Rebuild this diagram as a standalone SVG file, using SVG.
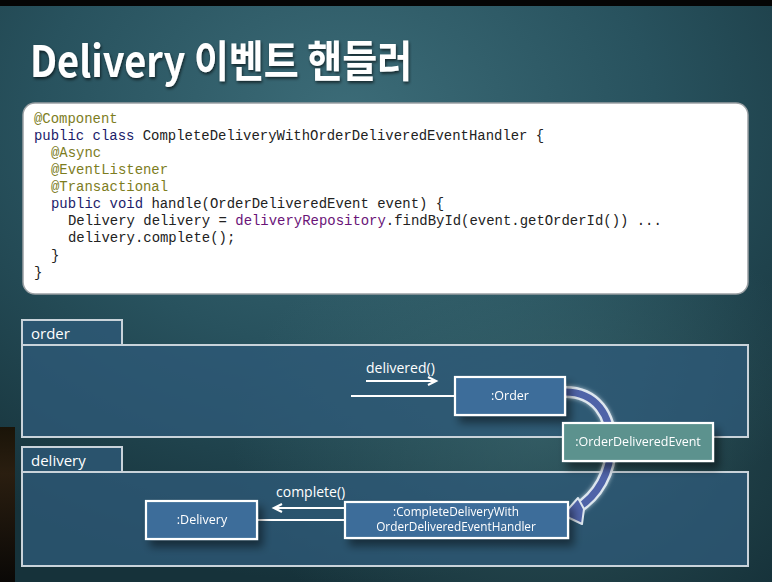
<svg xmlns="http://www.w3.org/2000/svg" width="772" height="582" viewBox="0 0 772 582">
<defs>
  <radialGradient id="bg1" cx="0.45" cy="0.2" r="0.8">
    <stop offset="0" stop-color="#3c6c78"/>
    <stop offset="0.5" stop-color="#28525e"/>
    <stop offset="1" stop-color="#16323a"/>
  </radialGradient>
  <radialGradient id="bg2" cx="0.7" cy="0.75" r="0.4">
    <stop offset="0" stop-color="#4a7a80" stop-opacity="0.45"/>
    <stop offset="1" stop-color="#4a7a80" stop-opacity="0"/>
  </radialGradient>
  <linearGradient id="leftStrip" x1="0" y1="0" x2="0" y2="1">
    <stop offset="0" stop-color="#1a1408"/>
    <stop offset="0.3" stop-color="#2a1e10"/>
    <stop offset="1" stop-color="#0a0806"/>
  </linearGradient>
  <filter id="shadow" x="-20%" y="-30%" width="150%" height="180%">
    <feDropShadow dx="5" dy="7" stdDeviation="4" flood-color="#000" flood-opacity="0.45"/>
  </filter>
  <filter id="glow" x="-20%" y="-20%" width="140%" height="140%">
    <feDropShadow dx="0" dy="0" stdDeviation="2" flood-color="#dfe8f0" flood-opacity="0.7"/>
  </filter>
  <filter id="tshadow" x="-5%" y="-20%" width="110%" height="150%">
    <feDropShadow dx="1" dy="2" stdDeviation="1.5" flood-color="#000" flood-opacity="0.6"/>
  </filter>
  <marker id="open" markerWidth="12" markerHeight="12" refX="9" refY="5" orient="auto" markerUnits="userSpaceOnUse">
    <path d="M1,1 L9,5 L1,9" fill="none" stroke="#ffffff" stroke-width="2.2"/>
  </marker>
</defs>
<style>
  .code { font-family: "Liberation Mono", "DejaVu Sans Mono", monospace; font-size: 13.95px; fill: #222; }
  .kw { fill: #1c1c6a; }
  .ann { fill: #7d7d1e; }
  .fld { fill: #6a1478; }
  .frame { fill: #2e5a78; fill-opacity: 0.78; stroke: #c9d3da; stroke-width: 2; }
  .flabel { font-family: "Open Sans", "Noto Sans", sans-serif; font-size: 15px; fill: #ffffff; }
  .node rect { stroke: #ffffff; stroke-width: 2.2; }
  .obj { fill: #3e6d9a; }
  .evt { fill: #5b928e; }
  .ntext { font-family: "Open Sans", "Noto Sans", sans-serif; font-size: 12.5px; fill: #ffffff; text-anchor: middle; }
  .small { font-size: 11.8px; }
  .msg { font-family: "Open Sans", "Noto Sans", sans-serif; font-size: 14px; fill: #ffffff; }
  .link { stroke: #ffffff; stroke-width: 2; fill: none; }
</style>

<!-- background -->
<rect x="0" y="0" width="772" height="582" fill="url(#bg1)"/>
<rect x="0" y="0" width="772" height="582" fill="url(#bg2)"/>
<rect x="0" y="0" width="772" height="6" fill="#050505"/>
<rect x="0" y="427" width="15" height="155" fill="url(#leftStrip)"/>

<!-- title -->
<g id="title" filter="url(#tshadow)">
  <text transform="translate(30,77) scale(0.95,1.08)" font-family="'Noto Sans CJK KR', 'Noto Sans', sans-serif" font-weight="bold" font-size="40" fill="#ffffff">Delivery 이벤트 핸들러</text>
</g>

<!-- code box -->
<g id="code">
  <rect x="23" y="103" width="725" height="191" rx="12" ry="12" fill="#ffffff" stroke="#9aa0a4" stroke-width="1.5"/>
  <text class="code" x="34" y="123"><tspan class="ann">@Component</tspan></text>
  <text class="code" x="34" y="140"><tspan class="kw">public class</tspan> CompleteDeliveryWithOrderDeliveredEventHandler {</text>
  <text class="code" x="51" y="157"><tspan class="ann">@Async</tspan></text>
  <text class="code" x="51" y="174"><tspan class="ann">@EventListener</tspan></text>
  <text class="code" x="51" y="191"><tspan class="ann">@Transactional</tspan></text>
  <text class="code" x="51" y="208"><tspan class="kw">public void</tspan> handle(OrderDeliveredEvent event) {</text>
  <text class="code" x="68" y="225">Delivery delivery = <tspan class="fld">deliveryRepository</tspan>.findById(event.getOrderId()) ...</text>
  <text class="code" x="68" y="242">delivery.complete();</text>
  <text class="code" x="51" y="260">}</text>
  <text class="code" x="34" y="277">}</text>
</g>

<!-- frames -->
<g id="frame-order">
  <rect class="frame" x="22" y="320" width="100" height="25"/>
  <rect class="frame" x="22" y="345" width="726" height="92"/>
  <text class="flabel" x="31" y="339">order</text>
</g>
<g id="frame-delivery">
  <rect class="frame" x="22" y="447" width="100" height="25"/>
  <rect class="frame" x="22" y="472" width="726" height="94"/>
  <text class="flabel" x="31" y="466">delivery</text>
</g>

<!-- connectors -->
<g id="connectors">
  <text class="msg" x="366" y="373">delivered()</text>
  <line class="link" x1="366" y1="381" x2="436" y2="381" marker-end="url(#open)"/>
  <line class="link" x1="351" y1="396" x2="455" y2="396"/>
  <text class="msg" x="276" y="497">complete()</text>
  <line class="link" x1="344" y1="508" x2="274" y2="508" marker-end="url(#open)"/>
  <line class="link" x1="257" y1="520" x2="345" y2="520"/>
  <g id="event-flow">
    <path d="M565,392 C596,392 611,415 611,445 C611,472 598,496 576,509" fill="none" stroke="#dde6ee" stroke-width="12" filter="url(#glow)"/>
    <path d="M565,392 C596,392 611,415 611,445 C611,472 598,496 576,509" fill="none" stroke="#4f63a8" stroke-width="7"/>
    <polygon points="563,515 578,498 584,509 582,524" fill="#4f63a8" stroke="#dde6ee" stroke-width="2" stroke-linejoin="round"/>
  </g>
</g>

<!-- nodes -->
<g id="node-order" class="node" filter="url(#shadow)">
  <rect class="obj" x="455" y="377" width="110" height="38"/>
  <text class="ntext" x="510" y="400">:Order</text>
</g>
<g id="node-event" class="node" filter="url(#shadow)">
  <rect class="evt" x="563" y="423" width="150" height="38"/>
  <text class="ntext" x="638" y="446">:OrderDeliveredEvent</text>
</g>
<g id="node-handler" class="node" filter="url(#shadow)">
  <rect class="obj" x="345" y="502" width="223" height="36"/>
  <text class="ntext small" x="456" y="516">:CompleteDeliveryWith</text>
  <text class="ntext small" x="456" y="531">OrderDeliveredEventHandler</text>
</g>
<g id="node-delivery" class="node" filter="url(#shadow)">
  <rect class="obj" x="146" y="501" width="111" height="38"/>
  <text class="ntext" x="202" y="524">:Delivery</text>
</g>
</svg>
